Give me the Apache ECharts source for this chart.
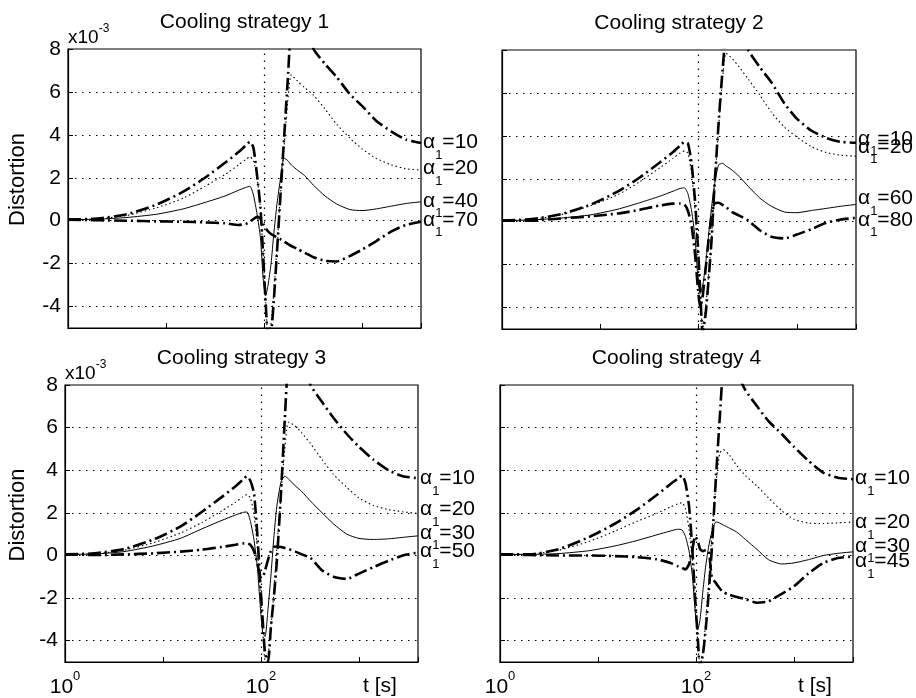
<!DOCTYPE html>
<html>
<head>
<meta charset="utf-8">
<script src="https://cdn.jsdelivr.net/npm/echarts@6/dist/echarts.min.js"></script>
<style>
html,body{margin:0;padding:0;background:#fff;}
#c{width:916px;height:698px;}
</style>
</head>
<body>
<div id="c"></div>
<script>
// ---- data (distortion in units of 1e-3) ----
const t = [1, 2, 4, 8, 15, 25, 40, 55, 65, 72, 78, 85, 92, 98, 104, 110, 118, 126, 135, 145, 160, 175, 190, 220, 260, 320, 420, 550, 750, 1000, 1400, 2000, 2800, 4000];

const titles = ['Cooling strategy 1', 'Cooling strategy 2', 'Cooling strategy 3', 'Cooling strategy 4'];
const alphaLabels1 = ['10', '20', '40', '70'];
const alphaLabels2 = ['10', '20', '60', '80'];
const alphaLabels3 = ['10', '20', '30', '50'];
const alphaLabels4 = ['10', '20', '30', '45'];

const yTickValues = [-4, -2, 0, 2, 4, 6, 8];
const yGridValues = [-4, -2, 0, 2, 4, 6];
const xTickValues = [1, 100];
const xTickExps = ['0', '2'];
const xGridValues = [100];

// Cooling strategy 1
const p1a10 = [0.05,0.1,0.3,0.75,1.35,2.0,2.7,3.2,3.5,3.68, 3.4,2.1,0.6,-1.6,-3.8,-5.3,-5.2,-3.7,-1.6,0.7, 3.8,6.6,9.0,9.6,9.3,8.0,7.3,6.7,5.9,5.35, 4.65,4.15,3.78,3.62];
const p1a20 = [0.05,0.08,0.25,0.6,1.05,1.6,2.15,2.6,2.85,2.97, 2.8,2.0,0.6,-1.5,-3.8,-5.3,-4.8,-3.3,-1.4,0.8, 3.4,5.6,6.8,6.5,6.2,5.85,5.2,4.5,3.85,3.35, 2.9,2.6,2.42,2.36];
const p1a40 = [0.05,0.07,0.15,0.3,0.55,0.85,1.15,1.42,1.55,1.6, 1.2,0.3,-0.8,-2.7,-3.5,-3.0,-2.0,-0.6,0.7,1.75, 2.92,2.8,2.6,2.35,2.1,1.65,1.15,0.78,0.52,0.47, 0.55,0.68,0.8,0.88];
const p1a70 = [0.05,0.02,0,-0.03,-0.05,-0.08,-0.12,-0.2,-0.15,-0.05, 0.08,0.18,0.1,-0.15,-0.35,-0.5,-0.62,-0.7,-0.78,-0.85, -0.97,-1.08,-1.18,-1.32,-1.5,-1.7,-1.87,-1.9,-1.65,-1.35, -0.95,-0.5,-0.2,-0.05];

// Cooling strategy 2
const p2a10 = [0.05,0.12,0.35,0.8,1.4,2.05,2.75,3.25,3.55,3.72, 3.65,2.7,1.0,-1.0,-3.2,-5.2,-4.3,-2.8,-1.0,1.6, 4.6,7.0,8.7,9.5,9.2,8.0,7.2,6.5,5.5,4.8, 4.25,3.9,3.72,3.68];
const p2a20 = [0.05,0.1,0.33,0.75,1.25,1.85,2.5,2.95,3.2,3.3, 3.2,2.2,0.6,-1.5,-3.5,-5.0,-4.0,-2.6,-0.9,1.5, 4.4,6.6,7.85,7.6,7.2,6.65,5.9,5.1,4.4,3.95, 3.5,3.22,3.1,3.05];
const p2a60 = [0.05,0.08,0.17,0.32,0.58,0.88,1.18,1.42,1.55,1.58, 1.3,0.5,-0.7,-2.5,-3.3,-3.0,-2.0,-0.7,0.6,1.7, 2.65,2.72,2.6,2.4,2.1,1.65,1.1,0.72,0.45,0.42, 0.52,0.62,0.72,0.8];
const p2a80 = [0.05,0.05,0.15,0.25,0.38,0.55,0.75,0.84,0.85,0.8, 0.5,-0.2,-1.5,-3.0,-4.0,-3.5,-2.2,-0.9,0.2,0.85, 0.88,0.78,0.68,0.45,0.28,0.05,-0.4,-0.7,-0.78,-0.6, -0.35,-0.05,0.1,0.18];

// Cooling strategy 3
const p3a10 = [0.05,0.1,0.3,0.75,1.35,2.05,2.75,3.25,3.55,3.72, 3.5,2.9,0.9,-1.2,-3.0,-4.6,-5.0,-3.4,-2.0,-0.3, 2.95,6.4,9.0,9.7,9.3,8.0,7.2,6.45,5.7,5.1, 4.5,4.0,3.72,3.62];
const p3a20 = [0.05,0.08,0.25,0.6,1.05,1.55,2.1,2.5,2.75,2.86, 2.7,1.9,0.3,-1.6,-3.4,-4.9,-4.7,-3.4,-1.8,0.3, 2.8,5.0,6.25,6.1,5.75,5.25,4.5,3.8,3.2,2.7, 2.35,2.15,2.05,1.97];
const p3a30 = [0.05,0.07,0.18,0.45,0.8,1.25,1.65,1.9,2.02,2.04, 1.6,0.7,-0.6,-2.3,-3.6,-3.8,-2.5,-1.0,0.8,2.3, 3.45,3.72,3.6,3.3,3.0,2.55,2.0,1.48,1.0,0.8, 0.75,0.78,0.85,0.92];
const p3a50 = [0.05,0.02,0.05,0.1,0.18,0.27,0.4,0.5,0.56,0.57, 0.5,0.2,-0.4,-0.95,-1.0,-0.7,-0.2,0.2,0.4,0.42, 0.4,0.35,0.3,0.2,0.05,-0.12,-0.7,-1.0,-1.1,-0.85, -0.55,-0.25,0.0,0.14];

// Cooling strategy 4
const p4a10 = [0.05,0.05,0.3,0.85,1.5,2.15,2.85,3.35,3.6,3.75, 3.4,2.3,0.2,-2.0,-3.8,-5.3,-4.6,-3.4,-1.7,0.3, 3.7,6.5,8.7,9.3,8.6,7.75,7.0,6.3,5.7,5.1, 4.45,3.88,3.65,3.58];
const p4a20 = [0.05,0.06,0.25,0.65,1.15,1.6,1.98,2.28,2.42,2.48, 2.2,1.2,-0.3,-2.2,-4.0,-5.2,-4.5,-3.0,-1.2,1.0, 3.4,4.8,4.97,4.7,4.22,3.75,3.25,2.7,2.1,1.7, 1.52,1.5,1.53,1.57];
const p4a30 = [0.05,0.05,0.09,0.22,0.45,0.7,0.97,1.15,1.23,1.2, 0.9,0.2,-1.0,-2.6,-3.5,-3.0,-1.6,-0.45,0.45,1.1, 1.58,1.52,1.43,1.28,1.1,0.75,0.28,-0.2,-0.4,-0.35, -0.2,0.0,0.1,0.17];
const p4a45 = [0.05,0.02,0,0,-0.03,-0.08,-0.18,-0.35,-0.5,-0.58, -0.66,-0.4,0.3,0.9,0.7,0.3,0.2,0.25,0.2,-1.0, -1.3,-1.55,-1.72,-1.85,-1.95,-2.05,-2.22,-2.15,-1.8,-1.45, -0.85,-0.35,-0.12,-0.05];

const panelSeries = [
  [p1a10, p1a20, p1a40, p1a70],
  [p2a10, p2a20, p2a60, p2a80],
  [p3a10, p3a20, p3a30, p3a50],
  [p4a10, p4a20, p4a30, p4a45]
];
const panelLabels = [alphaLabels1, alphaLabels2, alphaLabels3, alphaLabels4];

// ---- layout / style ----
const FONT = '"Liberation Sans", Arial, Helvetica, sans-serif';
const grids = [
  {left: 68, top: 49, width: 353, height: 279},
  {left: 502, top: 50, width: 354, height: 279},
  {left: 65, top: 385, width: 353, height: 278},
  {left: 500, top: 385, width: 353, height: 278}
];
// vertical nudges of the end labels (px), as placed in the original figure
const labelNudge = [
  [-1, -2, -1, -2],
  [-4, -9.5, -6, 2],
  [0, -4, -3, -1],
  [-1, 0, -6, 5]
];
const lineStyles = [
  {type: [13, 4, 2, 4], width: 2.6},
  {type: [1.5, 2.8], width: 1.1},
  {type: 'solid', width: 1},
  {type: [13, 4, 2, 4], width: 2.6}
];

const chart = echarts.init(document.getElementById('c'), null, {renderer: 'canvas'});

const option = {
  animation: false,
  backgroundColor: '#fff',
  title: titles.map((txt, i) => ({
    text: txt,
    left: grids[i].left + grids[i].width / 2,
    top: grids[i].top - 37,
    textAlign: 'center',
    padding: 0,
    textStyle: {fontSize: 21, fontWeight: 'normal', color: '#000', fontFamily: FONT}
  })),
  grid: grids.map(g => Object.assign({show: true, borderColor: '#000', borderWidth: 1.2, backgroundColor: '#fff', containLabel: false}, g)),
  xAxis: grids.map((g, i) => ({
    gridIndex: i,
    type: 'log',
    logBase: 10,
    min: 1,
    max: 4000,
    axisLine: {show: true, onZero: false, lineStyle: {color: '#000', width: 1.2}},
    axisTick: {show: true, inside: true, length: 5, lineStyle: {color: '#000'}},
    splitLine: {show: false},
    axisLabel: {
      show: i >= 2,
      margin: 8,
      color: '#000',
      fontFamily: FONT,
      formatter: function (v) {
        for (let k = 0; k < xTickValues.length; k++) {
          if (Math.abs(Math.log10(v) - Math.log10(xTickValues[k])) < 1e-6) {
            return '{b|10}{s|' + xTickExps[k] + '}';
          }
        }
        return '';
      },
      rich: {
        b: {fontSize: 21, lineHeight: 21, padding: [7, 0, 0, 0], verticalAlign: 'top', fontFamily: FONT, color: '#000'},
        s: {fontSize: 13, lineHeight: 13, verticalAlign: 'top', fontFamily: FONT, color: '#000'}
      }
    }
  })),
  yAxis: grids.map((g, i) => ({
    gridIndex: i,
    type: 'value',
    min: -5,
    max: 8,
    interval: 1,
    axisLine: {show: true, onZero: false, lineStyle: {color: '#000', width: 1.2}},
    axisTick: {show: true, inside: true, length: 5, customValues: yTickValues, lineStyle: {color: '#000'}},
    splitLine: {show: false},
    axisLabel: {
      show: i % 2 === 0,
      customValues: yTickValues,
      margin: 7,
      fontSize: 21,
      color: '#000',
      fontFamily: FONT,
      formatter: v => (Math.round(v) % 2 === 0 ? String(v) : '')
    }
  })),
  graphic: [],
  series: []
};

panelSeries.forEach((arrs, pi) => {
  arrs.forEach((vals, si) => {
    const s = {
      type: 'line',
      xAxisIndex: pi,
      yAxisIndex: pi,
      data: t.map((tv, k) => [tv, vals[k]]),
      showSymbol: false,
      symbol: 'none',
      smooth: 0.2,
      clip: true,
      lineStyle: Object.assign({color: '#000', cap: 'butt'}, lineStyles[si]),
      endLabel: {
        show: true,
        distance: 2,
        offset: [0, labelNudge[pi][si]],
        align: 'left',
        verticalAlign: 'middle',
        formatter: '{a|α}{s|1}{a|=' + panelLabels[pi][si] + '}',
        rich: {
          a: {fontSize: 21, lineHeight: 21, verticalAlign: 'top', fontFamily: FONT, color: '#000'},
          s: {fontSize: 13, lineHeight: 13, padding: [17, 0, 0, 0], verticalAlign: 'top', fontFamily: FONT, color: '#000'}
        }
      },
      emphasis: {disabled: true},
      silent: true,
      z: 3
    };
    if (si === 2) {
      s.markLine = {
        silent: true,
        symbol: ['none', 'none'],
        label: {show: false},
        z: 1,
        lineStyle: {type: [1.5, 5.5], color: '#000', width: 1.2},
        data: yGridValues.map(v => ({yAxis: v})).concat(xGridValues.map(v => ({xAxis: v})))
      };
    }
    option.series.push(s);
  });
});

// y-axis name and scale factor (left panels), x-axis name (bottom panels)
[0, 2].forEach(pi => {
  const g = grids[pi];
  option.graphic.push({
    type: 'text',
    x: 18,
    y: g.top + g.height / 2 - 9,
    rotation: Math.PI / 2,
    style: {text: 'Distortion', fontSize: 22, fontFamily: FONT, fill: '#000', align: 'center', verticalAlign: 'middle'}
  });
  option.graphic.push({
    type: 'text',
    x: g.left,
    y: g.top - 17,
    style: {
      text: '{b|x10}{s|-3}',
      fontFamily: FONT,
      fill: '#000',
      align: 'left',
      verticalAlign: 'middle',
      rich: {
        b: {fontSize: 19, lineHeight: 19, padding: [6, 0, 0, 0], verticalAlign: 'top', fontFamily: FONT, fill: '#000'},
        s: {fontSize: 12, lineHeight: 12, verticalAlign: 'top', fontFamily: FONT, fill: '#000'}
      }
    }
  });
});
[2, 3].forEach(pi => {
  const g = grids[pi];
  option.graphic.push({
    type: 'text',
    x: g.left + g.width - 38,
    y: g.top + g.height + 23,
    style: {text: 't [s]', fontSize: 21, fontFamily: FONT, fill: '#000', align: 'center', verticalAlign: 'middle'}
  });
});

chart.setOption(option);
</script>
</body>
</html>
